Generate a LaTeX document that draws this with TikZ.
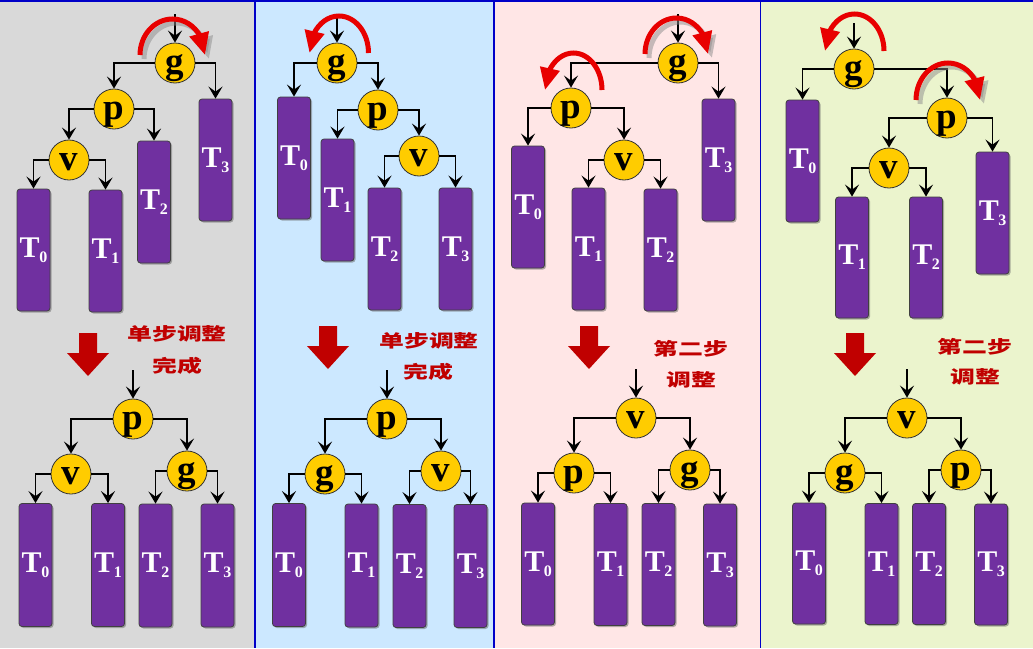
\documentclass[tikz,border=0pt]{standalone}
\usepackage{fontspec}
\usepackage{graphicx}
\setmainfont{Liberation Serif}
\newfontfamily\cjk{Noto Sans CJK SC}
\usetikzlibrary{arrows.meta,bending,shadows}
\definecolor{bggray}{HTML}{D9D9D9}
\definecolor{bgblue}{HTML}{CCE8FF}
\definecolor{bgpink}{HTML}{FFE6E6}
\definecolor{bggreen}{HTML}{EBF4CD}
\definecolor{edgeblue}{HTML}{0000C8}
\definecolor{purp}{HTML}{7030A0}
\definecolor{gold}{HTML}{FFCC00}
\definecolor{dred}{HTML}{C00000}
\definecolor{rarc}{HTML}{E80000}
\newcommand\TT[1]{T\kern-0.5pt\raisebox{-5pt}{\fontsize{16}{16}\selectfont #1}}
\newcommand\cjks[1]{\scalebox{1.42}[1]{#1}}
\newcommand\arccw[4]{\draw[arcred] ({#1-#3},{-#2}) arc[start angle=180,end angle=0,x radius=#3,y radius=#4];}
\newcommand\arccwsh[4]{\draw[arcsh] ({#1-#3+4},{-#2-4}) arc[start angle=180,end angle=0,x radius=#3,y radius=#4];}
\newcommand\arcccw[4]{\draw[arcred] ({#1+#3},{-#2}) arc[start angle=0,end angle=180,x radius=#3,y radius=#4];}
\newcommand\bigdown[2]{\fill[dred] ({#1-9},{-#2}) -- ({#1+9},{-#2}) -- ({#1+9},{-#2-20}) -- ({#1+21},{-#2-20}) -- (#1,{-#2-43}) -- ({#1-21},{-#2-20}) -- ({#1-9},{-#2-20}) -- cycle;}
\tikzset{
  nd/.style={circle, draw=black!80, line width=0.8pt, fill=gold, minimum size=40pt, inner sep=0pt,
    font=\fontsize{37}{37}\selectfont\bfseries, text height=20pt, text depth=0pt},
  tb/.style={rectangle, draw=black!75, line width=0.8pt, fill=purp, rounded corners=3pt,
    minimum width=33pt, minimum height=122pt, inner sep=0pt, text=white,
    font=\fontsize{30}{30}\selectfont\bfseries,
    drop shadow={shadow xshift=1.5pt,shadow yshift=-1.5pt,fill=black!60,opacity=0.5}},
  con/.style={draw=black, line width=1.8pt, -{Stealth[length=12pt,width=14pt,inset=5pt]}},
  arcred/.style={draw=rarc, line width=5pt, -{Triangle[length=22pt,width=19pt,flex]}},
  arcsh/.style={draw=black!45, opacity=0.5, line width=5pt, -{Triangle[length=22pt,width=19pt,flex]}},
  lbl/.style={text=dred, inner sep=0pt, font=\cjk\bfseries\fontsize{17.5}{17.5}\selectfont}
}
\begin{document}
\begin{tikzpicture}[x=1pt,y=1pt]
\useasboundingbox (0,0) rectangle (1033,-648);
% backgrounds
\fill[bggray] (0,0) rectangle (255,-648);
\fill[bgblue] (255,0) rectangle (494,-648);
\fill[bgpink] (494,0) rectangle (760.5,-648);
\fill[bggreen] (760.5,0) rectangle (1033,-648);
\draw[edgeblue, line width=2pt] (0,-1) -- (1033,-1);
\draw[edgeblue, line width=1.6pt] (255,0) -- (255,-648);
\draw[edgeblue, line width=1.6pt] (494,0) -- (494,-648);
\draw[edgeblue, line width=1.6pt] (760.5,0) -- (760.5,-648);

% ===== Panel 1 top =====
\node[nd] (a1g) at (175,-63) {g};
\node[nd] (a1p) at (114,-109) {p};
\node[nd] (a1v) at (69,-160) {v};
\node[tb] (a1t0) at (33.5,-250) {\TT0};
\node[tb] (a1t1) at (105.5,-251) {\TT1};
\node[tb] (a1t2) at (154,-202) {\TT2};
\node[tb] (a1t3) at (215.5,-160) {\TT3};
\coordinate (a1in) at (175,-14);
\draw[con] (a1in) -- (a1g.north);
\draw[con] (a1g.west) -| (a1p.north);
\draw[con] (a1g.east) -| (a1t3.north);
\draw[con] (a1p.west) -| (a1v.north);
\draw[con] (a1p.east) -| (a1t2.north);
\draw[con] (a1v.west) -| (a1t0.north);
\draw[con] (a1v.east) -| (a1t1.north);
\arccwsh{172.5}{55}{32.5}{36}
\arccw{172.5}{55}{32.5}{36}
% Panel 1 bottom
\bigdown{88}{333}
\node[lbl] (a1l1) at (177,-334) {\cjks{单步调整}};
\node[lbl] (a1l2) at (177,-366) {\cjks{完成}};
\node[nd] (b1p) at (133,-419) {p};
\node[nd] (b1v) at (71,-474) {v};
\node[nd] (b1g) at (187,-471) {g};
\node[tb,minimum height=123pt] (b1t0) at (35.5,-565) {\TT0};
\node[tb,minimum height=123pt] (b1t1) at (108,-565) {\TT1};
\node[tb,minimum height=123pt] (b1t2) at (155.5,-565.5) {\TT2};
\node[tb,minimum height=123pt] (b1t3) at (217.5,-565.5) {\TT3};
\coordinate (b1in) at (133,-370);
\draw[con] (b1in) -- (b1p.north);
\draw[con] (b1p.west) -| (b1v.north);
\draw[con] (b1p.east) -| (b1g.north);
\draw[con] (b1v.west) -| (b1t0.north);
\draw[con] (b1v.east) -| (b1t1.north);
\draw[con] (b1g.west) -| (b1t2.north);
\draw[con] (b1g.east) -| (b1t3.north);

% ===== Panel 2 top =====
\node[nd] (a2g) at (337,-63) {g};
\node[nd] (a2p) at (378,-110) {p};
\node[nd] (a2v) at (419,-156) {v};
\node[tb] (a2t0) at (294,-158) {\TT0};
\node[tb] (a2t1) at (337.5,-200) {\TT1};
\node[tb] (a2t2) at (384.5,-249) {\TT2};
\node[tb] (a2t3) at (455.5,-249) {\TT3};
\coordinate (a2in) at (337,-14);
\draw[con] (a2in) -- (a2g.north);
\draw[con] (a2g.west) -| (a2t0.north);
\draw[con] (a2g.east) -| (a2p.north);
\draw[con] (a2p.west) -| (a2t1.north);
\draw[con] (a2p.east) -| (a2v.north);
\draw[con] (a2v.west) -| (a2t2.north);
\draw[con] (a2v.east) -| (a2t3.north);
\arcccw{339}{53}{29.5}{37}
% Panel 2 bottom
\bigdown{328}{326}
\node[lbl] (a2l1) at (429,-341) {\cjks{单步调整}};
\node[lbl] (a2l2) at (428,-372) {\cjks{完成}};
\node[nd] (b2p) at (387,-419) {p};
\node[nd] (b2g) at (325,-474) {g};
\node[nd] (b2v) at (441,-471) {v};
\node[tb,minimum height=123pt] (b2t0) at (289,-565) {\TT0};
\node[tb,minimum height=123pt] (b2t1) at (361.5,-565.5) {\TT1};
\node[tb,minimum height=123pt] (b2t2) at (409.5,-566) {\TT2};
\node[tb,minimum height=123pt] (b2t3) at (470.5,-566) {\TT3};
\coordinate (b2in) at (387,-370);
\draw[con] (b2in) -- (b2p.north);
\draw[con] (b2p.west) -| (b2g.north);
\draw[con] (b2p.east) -| (b2v.north);
\draw[con] (b2g.west) -| (b2t0.north);
\draw[con] (b2g.east) -| (b2t1.north);
\draw[con] (b2v.west) -| (b2t2.north);
\draw[con] (b2v.east) -| (b2t3.north);

% ===== Panel 3 top =====
\node[nd] (a3g) at (678,-63) {g};
\node[nd] (a3p) at (571,-108) {p};
\node[nd] (a3v) at (624,-160) {v};
\node[tb] (a3t0) at (528,-207) {\TT0};
\node[tb] (a3t1) at (588.5,-249) {\TT1};
\node[tb] (a3t2) at (660.5,-250) {\TT2};
\node[tb] (a3t3) at (718.5,-160) {\TT3};
\coordinate (a3in) at (678,-14);
\draw[con] (a3in) -- (a3g.north);
\draw[con] (a3g.west) -| (a3p.north);
\draw[con] (a3g.east) -| (a3t3.north);
\draw[con] (a3p.west) -| (a3t0.north);
\draw[con] (a3p.east) -| (a3v.north);
\draw[con] (a3v.west) -| (a3t1.north);
\draw[con] (a3v.east) -| (a3t2.north);
\arccwsh{676.5}{54}{31.5}{36}
\arccw{676.5}{54}{31.5}{36}
\arcccw{573.5}{90}{28.5}{37}
% Panel 3 bottom
\bigdown{589}{326}
\node[lbl] (a3l1) at (691,-349) {\cjks{第二步}};
\node[lbl] (a3l2) at (691,-380) {\cjks{调整}};
\node[nd] (b3v) at (636,-418) {v};
\node[nd] (b3p) at (574,-473) {p};
\node[nd] (b3g) at (690,-470) {g};
\node[tb,minimum height=122pt] (b3t0) at (538,-564) {\TT0};
\node[tb,minimum height=122pt] (b3t1) at (610.5,-564.5) {\TT1};
\node[tb,minimum height=122pt] (b3t2) at (658.5,-564.5) {\TT2};
\node[tb,minimum height=122pt] (b3t3) at (720,-565) {\TT3};
\coordinate (b3in) at (636,-369);
\draw[con] (b3in) -- (b3v.north);
\draw[con] (b3v.west) -| (b3p.north);
\draw[con] (b3v.east) -| (b3g.north);
\draw[con] (b3p.west) -| (b3t0.north);
\draw[con] (b3p.east) -| (b3t1.north);
\draw[con] (b3g.west) -| (b3t2.north);
\draw[con] (b3g.east) -| (b3t3.north);

% ===== Panel 4 top =====
\node[nd] (a4g) at (854,-69) {g};
\node[nd] (a4p) at (947,-118) {p};
\node[nd] (a4v) at (889,-168) {v};
\node[tb] (a4t0) at (802.5,-161) {\TT0};
\node[tb,minimum height=121pt] (a4t1) at (852,-257.5) {\TT1};
\node[tb,minimum height=121pt] (a4t2) at (926,-257.5) {\TT2};
\node[tb] (a4t3) at (992.5,-213) {\TT3};
\coordinate (a4in) at (854,-23);
\draw[con] (a4in) -- (a4g.north);
\draw[con] (a4g.west) -| (a4t0.north);
\draw[con] (a4g.east) -| (a4p.north);
\draw[con] (a4p.west) -| (a4v.north);
\draw[con] (a4p.east) -| (a4t3.north);
\draw[con] (a4v.west) -| (a4t1.north);
\draw[con] (a4v.east) -| (a4t2.north);
\arcccw{854.5}{51}{29.5}{37}
\arccwsh{948}{100}{32}{37}
\arccw{948}{100}{32}{37}
% Panel 4 bottom
\bigdown{855}{333}
\node[lbl] (a4l1) at (975,-347) {\cjks{第二步}};
\node[lbl] (a4l2) at (975,-377) {\cjks{调整}};
\node[nd] (b4v) at (907,-418) {v};
\node[nd] (b4g) at (845,-473) {g};
\node[nd] (b4p) at (961,-470) {p};
\node[tb,minimum height=121pt] (b4t0) at (809,-563.5) {\TT0};
\node[tb,minimum height=121pt] (b4t1) at (881.5,-564) {\TT1};
\node[tb,minimum height=121pt] (b4t2) at (929,-564) {\TT2};
\node[tb,minimum height=121pt] (b4t3) at (991,-564.5) {\TT3};
\coordinate (b4in) at (907,-369);
\draw[con] (b4in) -- (b4v.north);
\draw[con] (b4v.west) -| (b4g.north);
\draw[con] (b4v.east) -| (b4p.north);
\draw[con] (b4g.west) -| (b4t0.north);
\draw[con] (b4g.east) -| (b4t1.north);
\draw[con] (b4p.west) -| (b4t2.north);
\draw[con] (b4p.east) -| (b4t3.north);
\end{tikzpicture}
\end{document}
